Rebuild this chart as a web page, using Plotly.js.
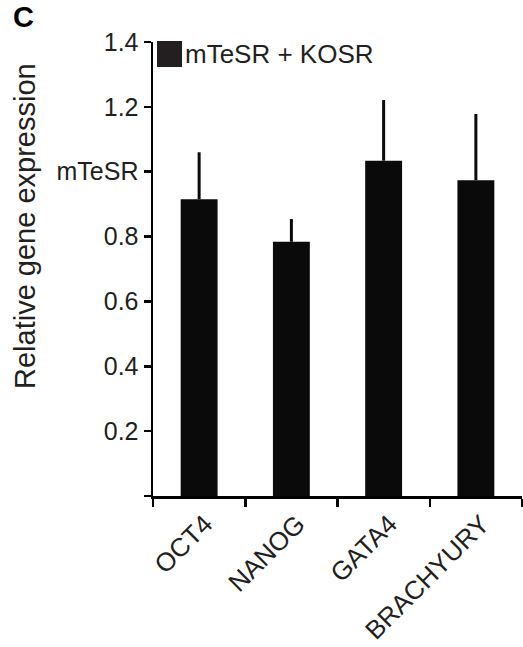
<!DOCTYPE html>
<html>
<head>
<meta charset="utf-8">
<script src="https://cdn.plot.ly/plotly-3.0.1.min.js"></script>
<style>html,body{margin:0;padding:0;background:#fff;}</style>
</head>
<body>
<div id="chart" style="width:523px;height:647px;"></div>
<script>
const genes = ["OCT4", "NANOG", "GATA4", "BRACHYURY"];
const expression = [0.915, 0.784, 1.034, 0.974];
const errorUp = [0.145, 0.070, 0.187, 0.204];
const yTickVals = [0, 0.2, 0.4, 0.6, 0.8, 1.0, 1.2, 1.4];
const yTickText = ["", "0.2", "0.4", "0.6", "0.8", "mTeSR", "1.2", "1.4"];
const seriesName = "mTeSR + KOSR";
const panelLabel = "C";
const yTitle = "Relative gene expression";

const font = "Liberation Sans, Arial, Helvetica, sans-serif";
const textColor = "#231f20";

const trace = {
  type: "bar",
  x: genes,
  y: expression,
  name: seriesName,
  width: 0.4,
  marker: {color: "#0a0a0a", line: {width: 0}},
  error_y: {
    type: "data",
    symmetric: false,
    array: errorUp,
    arrayminus: genes.map(() => 0),
    visible: true,
    color: "#0a0a0a",
    thickness: 3,
    width: 0
  },
  showlegend: false
};

const layout = {
  width: 523,
  height: 647,
  margin: {l: 153, r: 1, t: 42, b: 151, pad: 0},
  paper_bgcolor: "#ffffff",
  plot_bgcolor: "#ffffff",
  font: {family: font, color: textColor},
  showlegend: false,
  xaxis: {
    range: [-0.5, 3.5],
    showline: true,
    linecolor: "#000",
    linewidth: 2.5,
    showgrid: false,
    zeroline: false,
    ticks: "outside",
    tickson: "boundaries",
    ticklen: 8,
    tickwidth: 2.5,
    tickcolor: "#000",
    tickangle: -45,
    ticklabelshift: 6,
    tickfont: {family: font, size: 26, color: textColor},
    fixedrange: true
  },
  yaxis: {
    range: [0, 1.4],
    showline: true,
    linecolor: "#000",
    linewidth: 2.5,
    showgrid: false,
    zeroline: false,
    ticks: "outside",
    tickvals: yTickVals,
    ticktext: yTickText,
    ticklen: 7,
    tickwidth: 2.5,
    tickcolor: "#000",
    tickfont: {family: font, size: 25, color: textColor},
    fixedrange: true
  },
  shapes: [
    {type: "rect", xref: "paper", yref: "paper",
     x0: 4 / 369, x1: 29 / 369, y0: 1 - 25 / 454, y1: 1 + 1 / 454,
     fillcolor: "#231f20", line: {width: 0}}
  ],
  annotations: [
    {text: seriesName, xref: "paper", yref: "paper", x: 30 / 369, y: 1 - 12 / 454,
     xanchor: "left", yanchor: "middle", showarrow: false,
     font: {family: font, size: 26, color: textColor}},
    {text: "<b>" + panelLabel + "</b>", xref: "paper", yref: "paper",
     x: -142 / 369, y: 1 + 25 / 454, xanchor: "left", yanchor: "middle", showarrow: false,
     font: {family: font, size: 29, color: "#000"}},
    {text: yTitle, xref: "paper", yref: "paper", textangle: -90,
     x: -128 / 369, y: (496 - 226) / 454, xanchor: "center", yanchor: "middle", showarrow: false,
     font: {family: font, size: 29, color: textColor}}
  ]
};

Plotly.newPlot("chart", [trace], layout, {displayModeBar: false, staticPlot: true});
</script>
</body>
</html>
